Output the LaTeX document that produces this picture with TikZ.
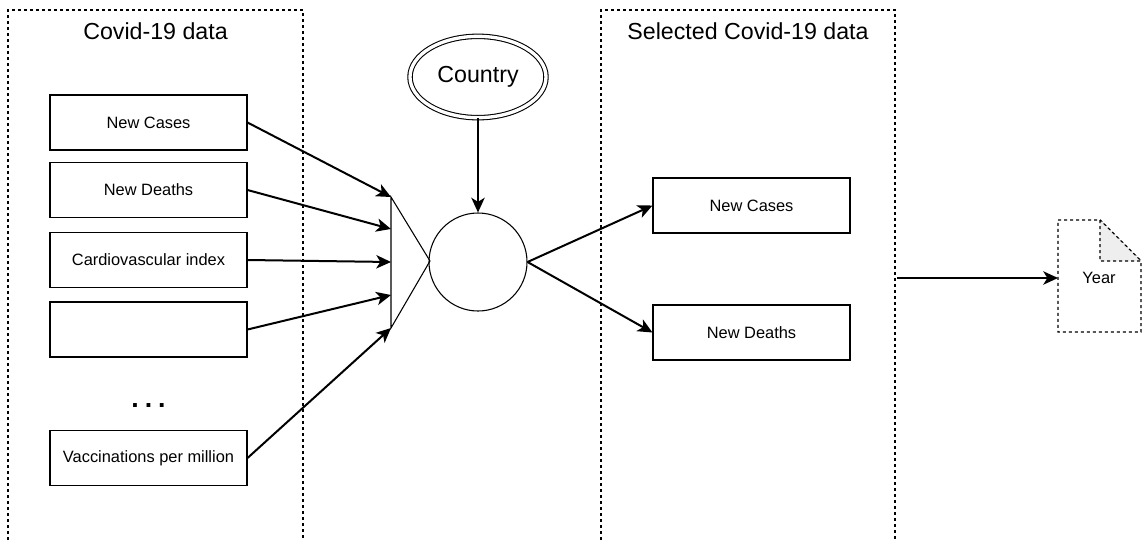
\documentclass[tikz,border=0pt]{standalone}
\usepackage{fontspec}
\setmainfont{Liberation Sans}
\usetikzlibrary{arrows.meta,shapes.geometric}
\definecolor{foldgray}{HTML}{EEEEEE}
\tikzset{
  group/.style={draw=black, line width=0.8pt, dash pattern=on 2.25pt off 2.25pt},
  field/.style={draw=black, line width=0.8pt, fill=white, minimum width=147.75pt,
    minimum height=41.25pt, inner sep=0pt, font=\fontsize{12.3}{14}\selectfont},
  flow/.style={draw=black, line width=1.5pt, -{Stealth[length=11pt,width=10pt,inset=3pt]}},
  grouptitle/.style={font=\fontsize{17.4}{20}\selectfont, inner sep=0pt}
}
\begin{document}
\begin{tikzpicture}[x=0.75pt,y=-0.75pt]
\useasboundingbox (0,0) rectangle (1143,540);
\fill[white] (0,0) rectangle (1143,540);

% open-bottom group frames
\draw[group] (8,540) -- (8,10) -- (303,10) -- (303,540);
\draw[group] (601,540) -- (601,10) -- (895,10) -- (895,540);
\coordinate (rgroupE) at (897,278);
\node[grouptitle] (ltitle) at (155.5,31) {Covid-19 data};
\node[grouptitle] (rtitle) at (748,31) {Selected Covid-19 data};

% source fields
\node[field] (cases) at (148.5,122.5) {New Cases};
\node[field] (deaths) at (148.5,190) {New Deaths};
\node[field] (cardio) at (148.5,260) {Cardiovascular index};
\node[field] (blank) at (148.5,329.5) {};
\node[font=\fontsize{20}{20}\selectfont\bfseries, inner sep=0pt] (dots) at (148.5,406) {.\kern4.5pt.\kern4.5pt.};
\node[field] (vacc) at (148.5,458) {Vaccinations per million};

% merge funnel
\coordinate (f1) at (391,197);
\coordinate (f2) at (391,229);
\coordinate (f3) at (391,262);
\coordinate (f4) at (391,295);
\coordinate (f5) at (391,328);
\coordinate (apex) at (430,261);
\draw[line width=0.8pt] (apex) -- (f1) -- (f5) -- cycle;

% join operator and country filter
\node[circle, draw=black, line width=0.8pt, minimum size=73.5pt, inner sep=0pt] (join) at (478,262) {};
\node[ellipse, draw=black, line width=0.8pt, double, double distance=2.5pt,
  minimum width=102pt, minimum height=61pt, inner sep=0pt,
  font=\fontsize{17.4}{20}\selectfont] (country) at (478,77) {Country};

% selected fields
\node[field] (scases) at (751.5,205.5) {New Cases};
\node[field] (sdeaths) at (751.5,332.5) {New Deaths};

% output document
\coordinate (docW) at (1058,278);
\draw[group, fill=white] (1058,220) -- (1100,220) -- (1141,261) -- (1141,332) -- (1058,332) -- cycle;
\draw[group, fill=foldgray] (1100,220) -- (1100,261) -- (1141,261) -- cycle;
\node[font=\fontsize{12.3}{14}\selectfont, inner sep=0pt] (year) at (1099,278) {Year};

% connectors
\draw[flow] (cases.east) -- (f1);
\draw[flow] (deaths.east) -- (f2);
\draw[flow] (cardio.east) -- (f3);
\draw[flow] (blank.east) -- (f4);
\draw[flow] (vacc.east) -- (f5);
\draw[flow] (country.south) -- (join.north);
\draw[flow] (join.east) -- (scases.west);
\draw[flow] (join.east) -- (sdeaths.west);
\draw[flow] (rgroupE) -- (docW);
\end{tikzpicture}
\end{document}
